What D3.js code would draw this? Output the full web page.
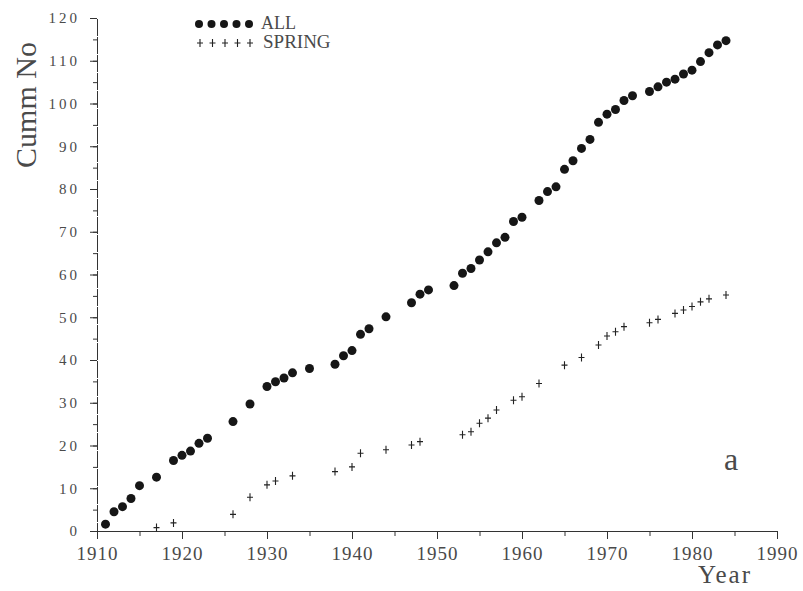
<!DOCTYPE html>
<html>
<head>
<meta charset="utf-8">
<script src="https://cdn.jsdelivr.net/npm/d3@7"></script>
<style>
  body { margin: 0; background: #fff; }
  svg text { font-family: "Liberation Serif", serif; fill: #4a4a4a; }
</style>
</head>
<body>
<div id="chart"></div>
<script>
// cumulative counts
const allYears = [1911, 1912, 1913, 1914, 1915, 1917, 1919, 1920, 1921, 1922, 1923, 1926, 1928,
  1930, 1931, 1932, 1933, 1935, 1938, 1939, 1940, 1941, 1942, 1944, 1947, 1948, 1949,
  1952, 1953, 1954, 1955, 1956, 1957, 1958, 1959, 1960, 1962, 1963, 1964, 1965, 1966,
  1967, 1968, 1969, 1970, 1971, 1972, 1973, 1975, 1976, 1977, 1978, 1979, 1980, 1981,
  1982, 1983, 1984];
const allCounts = [1.6, 4.5, 5.7, 7.6, 10.6, 12.6, 16.5, 17.7, 18.7, 20.5, 21.7, 25.6, 29.7,
  33.8, 34.9, 35.8, 37, 38, 39, 41, 42.2, 46, 47.3, 50.1, 53.4, 55.4, 56.4,
  57.4, 60.3, 61.4, 63.4, 65.3, 67.4, 68.7, 72.4, 73.4, 77.3, 79.4, 80.5, 84.6, 86.6,
  89.5, 91.6, 95.6, 97.5, 98.6, 100.7, 101.8, 102.8, 103.9, 105, 105.7, 106.9, 107.8, 109.8,
  111.9, 113.7, 114.7];

const springYears = [1917, 1919, 1926, 1928, 1930, 1931, 1933, 1938, 1940, 1941, 1944, 1947,
  1948, 1953, 1954, 1955, 1956, 1957, 1959, 1960, 1962, 1965, 1967, 1969, 1970, 1971,
  1972, 1975, 1976, 1978, 1979, 1980, 1981, 1982, 1984];
const springCounts = [0.8, 1.9, 3.9, 7.9, 10.8, 11.7, 12.9, 13.9, 15, 18.2, 19, 20.1,
  20.9, 22.5, 23.2, 25.2, 26.4, 28.3, 30.6, 31.4, 34.5, 38.8, 40.6, 43.5, 45.6, 46.6,
  47.8, 48.7, 49.5, 50.9, 51.7, 52.5, 53.6, 54.3, 55.2];

const xTicks = [1910, 1920, 1930, 1940, 1950, 1960, 1970, 1980, 1990];
const yTicks = [0, 10, 20, 30, 40, 50, 60, 70, 80, 90, 100, 110, 120];

const width = 803, height = 591;
const margin = { top: 18, right: 26, bottom: 60, left: 97 };

const svg = d3.select('#chart').append('svg')
  .attr('width', width)
  .attr('height', height);

const x = d3.scaleLinear().domain([1910, 1990]).range([margin.left, width - margin.right]);
const y = d3.scaleLinear().domain([0, 120]).range([height - margin.bottom, margin.top]);

// X axis
const xAxis = svg.append('g')
  .attr('transform', `translate(0,${height - margin.bottom})`)
  .call(d3.axisBottom(x).tickValues(d3.range(1910, 1991, 5)).tickSize(5).tickFormat(''));
xAxis.append('g')
  .call(d3.axisBottom(x).tickValues(xTicks).tickSize(8).tickFormat(d3.format('d')));
xAxis.selectAll('.domain').attr('stroke', '#333').attr('stroke-dasharray', '10 3 3 3');
xAxis.selectAll('line').attr('stroke', '#333');
xAxis.selectAll('text')
  .attr('font-size', '19px')
  .attr('letter-spacing', '1px')
  .attr('dy', '0.95em');

// Y axis
const yAxis = svg.append('g')
  .attr('transform', `translate(${margin.left},0)`)
  .call(d3.axisLeft(y).tickValues(d3.range(0, 121, 5)).tickSize(4).tickFormat(''));
yAxis.append('g')
  .call(d3.axisLeft(y).tickValues(yTicks).tickSize(7).tickPadding(10));
yAxis.selectAll('.domain').attr('stroke', '#333').attr('stroke-dasharray', '12 2 2 2');
yAxis.selectAll('line').attr('stroke', '#333');
yAxis.selectAll('text')
  .attr('font-size', '15px')
  .attr('letter-spacing', '3px');

// axis titles
svg.append('text')
  .attr('transform', `translate(36,105) rotate(-90)`)
  .attr('text-anchor', 'middle')
  .attr('font-size', '30px')
  .text('Cumm No');

svg.append('text')
  .attr('x', 725)
  .attr('y', 583)
  .attr('text-anchor', 'middle')
  .attr('font-size', '25px')
  .attr('letter-spacing', '2px')
  .text('Year');

// ALL
svg.append('g')
  .selectAll('circle')
  .data(allYears.map((yr, i) => [yr, allCounts[i]]))
  .join('circle')
  .attr('cx', d => x(d[0]))
  .attr('cy', d => y(d[1]))
  .attr('r', 4.5)
  .attr('fill', '#161616');

// SPRING
svg.append('g')
  .selectAll('path')
  .data(springYears.map((yr, i) => [yr, springCounts[i]]))
  .join('path')
  .attr('transform', d => `translate(${x(d[0])},${y(d[1])})`)
  .attr('d', 'M-3,0H3M0,-4V4')
  .attr('stroke', '#222')
  .attr('stroke-width', 1.1)
  .attr('fill', 'none');

// legend
const legend = svg.append('g');
legend.selectAll('circle')
  .data(d3.range(5))
  .join('circle')
  .attr('cx', i => 199 + i * 12.5)
  .attr('cy', 24)
  .attr('r', 4)
  .attr('fill', '#161616');
legend.append('text')
  .attr('x', 261).attr('y', 29)
  .attr('font-size', '18px')
  .text('ALL');
legend.selectAll('path')
  .data(d3.range(5))
  .join('path')
  .attr('transform', i => `translate(${200 + i * 12.5},43)`)
  .attr('d', 'M-3,0H3M0,-4V4')
  .attr('stroke', '#222')
  .attr('stroke-width', 1.1);
legend.append('text')
  .attr('x', 263).attr('y', 48)
  .attr('font-size', '19px')
  .text('SPRING');

// panel letter
svg.append('text')
  .attr('x', 724)
  .attr('y', 470)
  .attr('font-size', '32px')
  .text('a');
</script>
</body>
</html>
